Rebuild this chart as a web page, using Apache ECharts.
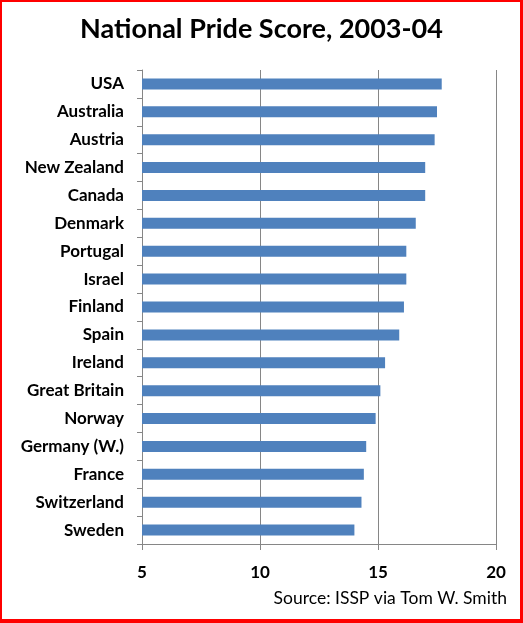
<!DOCTYPE html>
<html>
<head>
<meta charset="utf-8">
<title>National Pride Score</title>
<script src="https://cdn.jsdelivr.net/npm/echarts@6/dist/echarts.min.js"></script>
<style type="text/css">
	html, body { margin: 0; padding: 0; background: #fff; }
	#frame {
		width: 523px;
		height: 623px;
		box-sizing: border-box;
		border-style: solid;
		border-color: #ff0000;
		border-width: 2px 3px 4px 2px;
		position: relative;
	}
	#main { position: absolute; left: -2px; top: -2px; width: 523px; height: 623px; }
</style>
</head>
<body>
<div id="frame"><div id="main"></div></div>
<script type="text/javascript">
	// countries, top to bottom
	var countries = ['USA', 'Australia', 'Austria', 'New Zealand', 'Canada', 'Denmark', 'Portugal',
		'Israel', 'Finland', 'Spain', 'Ireland', 'Great Britain', 'Norway', 'Germany (W.)',
		'France', 'Switzerland', 'Sweden'];
	// national pride score
	var scores = [17.7, 17.5, 17.4, 17.0, 17.0, 16.6, 16.2, 16.2, 16.1, 15.9, 15.3, 15.1, 14.9, 14.5, 14.4, 14.3, 14.0];
	var xTicks = [5, 10, 15, 20];

	var font = 'Lato, "Open Sans", sans-serif';
	var gray = '#868686';

	var myChart = echarts.init(document.getElementById('main'));
	var option = {
		animation: false,
		title: {
			text: 'National Pride Score, 2003-04',
			left: 'center',
			top: 11,
			textStyle: { fontFamily: font, fontSize: 27, fontWeight: 'bold', color: '#000' }
		},
		graphic: [{
			type: 'text',
			right: 16,
			top: 589,
			style: { text: 'Source: ISSP via Tom W. Smith', fontFamily: font, fontSize: 17.5, fill: '#000' }
		}],
		grid: { left: 142, right: 27, top: 70, bottom: 79, containLabel: false },
		xAxis: {
			type: 'value',
			min: xTicks[0],
			max: xTicks[xTicks.length - 1],
			interval: 5,
			axisLine: { show: true, lineStyle: { color: gray, width: 1 } },
			axisTick: { show: true, length: 6, lineStyle: { color: gray } },
			splitLine: { show: true, lineStyle: { color: gray, width: 1 } },
			axisLabel: { margin: 20, fontFamily: font, fontSize: 17, fontWeight: 'bold', color: '#000' }
		},
		yAxis: {
			type: 'category',
			inverse: true,
			data: countries,
			axisLine: { show: true, lineStyle: { color: gray, width: 1 } },
			axisTick: { show: true, length: 5, lineStyle: { color: gray } },
			axisLabel: { margin: 18, fontFamily: font, fontSize: 17, fontWeight: 'bold', color: '#000' }
		},
		series: [{
			type: 'bar',
			data: scores,
			barWidth: 11,
			itemStyle: { color: '#4f81bd' }
		}]
	};
	myChart.setOption(option);
</script>
</body>
</html>
